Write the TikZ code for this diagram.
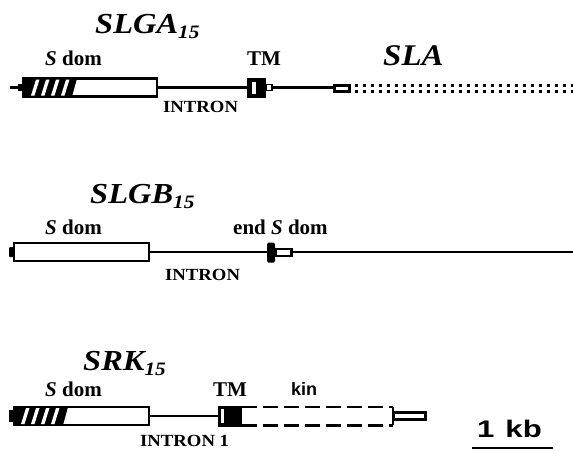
\documentclass[tikz,border=0pt]{standalone}
\usepackage{fontspec}
\setmainfont{Liberation Serif}
\newfontfamily\labelsans{Liberation Sans}
\newcommand{\genename}[2]{\scalebox{1.12}[1]{\fontsize{29}{29}\selectfont\bfseries\itshape #1\raisebox{-5pt}{\fontsize{19}{19}\selectfont #2}}}
\newcommand{\intronlabel}[1]{\scalebox{1.1}[1]{\fontsize{17}{17}\selectfont\bfseries #1}}
\tikzset{
  wire/.style={line width=2.4pt},
  exon/.style={draw, line width=2.4pt, fill=white, inner sep=0pt, outer sep=0pt},
  blackbox/.style={fill=black, inner sep=0pt, outer sep=0pt},
  lbl/.style={anchor=base west, inner sep=0pt, font=\fontsize{21}{21}\selectfont\bfseries},
  gene/.style={anchor=base west, inner sep=0pt},
  dots/.style={line width=3pt, dash pattern=on 3.5pt off 4.5pt},
  kdash/.style={line width=2.6pt, dash pattern=on 15pt off 6pt},
}
\begin{document}
\begin{tikzpicture}[x=1pt, y=-1pt]
\useasboundingbox (0,0) rectangle (573,450);

% ---------------- SLGA15 ----------------
\node[gene] (gA) at (95,33) {\genename{SLGA}{15}};
\node[lbl] (sdA) at (45,65) {\textit{S} dom};
\node[lbl] (tmA) at (247,65) {TM};
\node[gene] (sla) at (383,65) {\scalebox{1.1}[1]{\fontsize{30}{30}\selectfont\bfseries\itshape SLA}};
\node[gene] (inA) at (163,112) {\intronlabel{INTRON}};

\coordinate (a0) at (10,87.5);
\node[exon, minimum width=134pt, minimum height=18pt] (a1) at (90,87.5) {};
\fill (23,78.5) -- (77,78.5) -- (72,96.5) -- (23,96.5) -- cycle;
\foreach \s in {31,41,51,61}
  \fill[white] (\s,95.5) -- (\s+3.5,95.5) -- (\s+8.5,79.5) -- (\s+5,79.5) -- cycle;
\node[blackbox, minimum width=5pt, minimum height=7pt] (a0c) at (20,87.5) {};
\draw[wire] (a0) -- (a0c.west);

\node[blackbox, minimum width=19pt, minimum height=20pt] (t1) at (256,87.5) {};
\fill[white] (252,81.5) rectangle (255.5,93.5);
\node[exon, line width=1.8pt, minimum width=6pt, minimum height=6pt] (c1) at (269,87.5) {};
\node[exon, minimum width=15pt, minimum height=6pt] (s1) at (342,88.5) {};
\coordinate (dEnd) at (573,88.5);
\draw[wire] (a1.east) -- (t1.west);
\draw[wire] (c1.east) -- (s1.west |- c1.east);
\draw[dots] ([xshift=5pt,yshift=-3pt]s1.east) -- ([yshift=-3pt]dEnd);
\draw[dots] ([xshift=5pt,yshift=3pt]s1.east) -- ([yshift=3pt]dEnd);

% ---------------- SLGB15 ----------------
\node[gene] (gB) at (90,203) {\genename{SLGB}{15}};
\node[lbl] (sdB) at (45,234) {\textit{S} dom};
\node[lbl] (esd) at (233,234) {end \textit{S} dom};
\node[gene] (inB) at (165,280) {\intronlabel{INTRON}};

\node[blackbox, rounded corners=1pt, minimum width=6pt, minimum height=10pt] (b0) at (12,252) {};
\node[exon, minimum width=135pt, minimum height=18pt] (b1) at (81.5,252) {};
\node[blackbox, rounded corners=1.5pt, minimum width=8pt, minimum height=20pt] (b2) at (271,252.5) {};
\node[exon, minimum width=16pt, minimum height=7pt] (b3) at (283.5,252.5) {};
\coordinate (bEnd) at (573,252);
\draw[wire] (b1.east) -- (b2.west |- b1.east);
\draw[wire] (b3.east |- bEnd) -- (bEnd);

% ---------------- SRK15 ----------------
\node[gene] (gC) at (83,370) {\genename{SRK}{15}};
\node[lbl] (sdC) at (45,396) {\textit{S} dom};
\node[lbl] (tmC) at (213,396) {TM};
\node[anchor=base west, inner sep=0pt, font=\labelsans\fontsize{18}{18}\selectfont\bfseries] (kin) at (291,395) {kin};
\node[gene] (inC) at (140,446) {\intronlabel{INTRON 1}};

\node[blackbox, minimum width=6pt, minimum height=12pt] (r0) at (11.5,416) {};
\node[exon, minimum width=135pt, minimum height=18pt] (r1) at (81.5,416) {};
\fill (14,407) -- (68,407) -- (63,425) -- (14,425) -- cycle;
\foreach \s in {21,31,41,51}
  \fill[white] (\s,424) -- (\s+3.5,424) -- (\s+8.5,408) -- (\s+5,408) -- cycle;
\node[blackbox, minimum width=24pt, minimum height=21pt] (r2) at (230,416) {};
\fill[white] (220.5,409) rectangle (224,423);
\coordinate (kEnd) at (393,416);
\node[exon, minimum width=32pt, minimum height=7pt] (r4) at (409.5,416) {};
\draw[wire] (r1.east) -- (r2.west);
\draw[kdash] ([yshift=-1.3pt]r2.north east) -- ([yshift=-1.3pt]r2.north east -| kEnd);
\draw[kdash] ([yshift=1.3pt]r2.south east) -- ([yshift=1.3pt]r2.south east -| kEnd);
\draw[line width=1.2pt] ([yshift=-1.3pt]r2.north east -| kEnd) -- ([yshift=1.3pt]r2.south east -| kEnd);

% ---------------- scale bar ----------------
\node[anchor=base west, inner sep=0pt, font=\labelsans\fontsize{24}{24}\selectfont\bfseries] (kb) at (477,437) {\scalebox{1.3}[1]{1\hspace{0.35em}kb}};
\coordinate (sb0) at (472,448);
\coordinate (sb1) at (553,448);
\draw[wire] (sb0) -- (sb1);
\end{tikzpicture}
\end{document}
